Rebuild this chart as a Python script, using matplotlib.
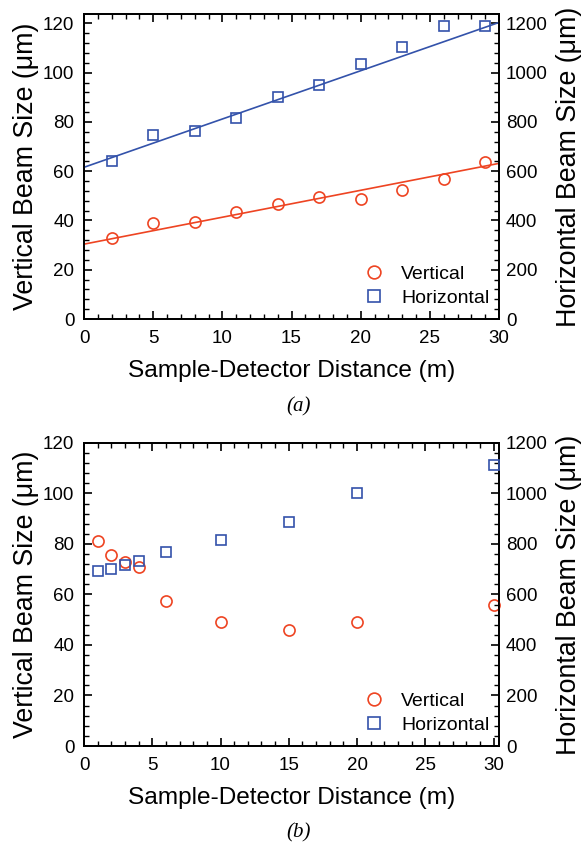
import matplotlib
matplotlib.use("Agg")
import matplotlib.pyplot as plt
import numpy as np
from matplotlib.ticker import MultipleLocator

plt.rcParams['font.family'] = ['Liberation Sans', 'DejaVu Sans']

# ---- data: panel (a) ----
a_dist = [2, 5, 8, 11, 14, 17, 20, 23, 26, 29]
a_vertical = [32.8, 38.8, 39.5, 43.4, 46.5, 49.7, 48.8, 52.2, 56.8, 63.9]
a_horizontal = [642, 746, 765, 816, 901, 949, 1034, 1105, 1188, 1191]
# linear fits (intercept, slope)
a_vert_fit = [30.4, 1.093]
a_horiz_fit = [616, 19.6]

# ---- data: panel (b) ----
b_dist = [1, 2, 3, 4, 6, 10, 15, 20, 30]
b_vertical = [81.0, 75.5, 72.8, 71.0, 57.4, 49.1, 46.0, 49.1, 56.0]
b_horizontal = [692, 699, 718, 734, 767, 814, 887, 1000, 1113]

RED = '#ee4422'
BLUE = '#3352aa'
XLABEL_FS = 17.6
YLABEL_FS = 19.3
TICK_FS = 13.5
LEG_FS = 14

fig = plt.figure(figsize=(5.81, 8.42), dpi=100)

def style_axes(ax, ax2, xmax, ymax):
    ax.set_xlim(0, xmax)
    ax.set_ylim(0, ymax)
    ax2.set_ylim(0, ymax * 10)
    ax.xaxis.set_major_locator(MultipleLocator(5))
    ax.xaxis.set_minor_locator(MultipleLocator(1))
    ax.yaxis.set_major_locator(MultipleLocator(20))
    ax.yaxis.set_minor_locator(MultipleLocator(4))
    ax2.yaxis.set_major_locator(MultipleLocator(200))
    ax2.yaxis.set_minor_locator(MultipleLocator(40))
    ax.tick_params(axis='x', which='both', direction='in', top=True, bottom=True)
    ax.tick_params(axis='y', which='both', direction='in', left=True, right=False)
    ax.tick_params(which='major', length=6, width=1.2, labelsize=TICK_FS)
    ax.tick_params(which='minor', length=3.5, width=1.0)
    ax.tick_params(axis='x', which='major', pad=8)
    ax.tick_params(axis='y', which='major', pad=7)
    ax2.tick_params(axis='y', which='both', direction='in')
    ax2.tick_params(which='major', length=6, width=1.2, labelsize=TICK_FS, pad=5)
    ax2.tick_params(which='minor', length=3.5, width=1.0)
    for sp in ax.spines.values():
        sp.set_linewidth(1.3)
    for sp in ax2.spines.values():
        sp.set_linewidth(1.3)
    ax.set_xlabel('Sample-Detector Distance (m)', fontsize=XLABEL_FS, labelpad=9)
    ax.set_ylabel('Vertical Beam Size (\u03bcm)', fontsize=YLABEL_FS, labelpad=3)
    ax2.set_ylabel('Horizontal Beam Size (\u03bcm)', fontsize=YLABEL_FS, labelpad=6)

def add_legend(ax, handles):
    ax.legend(handles=handles, loc='lower right', frameon=False, fontsize=LEG_FS,
              handletextpad=0.8, handlelength=1.2, borderaxespad=0.0, labelspacing=0.3,
              markerscale=1.15, bbox_to_anchor=(0.995, 0.015))

# Panel (a)
ax = fig.add_axes([0.1446, 0.6211, 0.7143, 0.3622])
ax2 = ax.twinx()
style_axes(ax, ax2, 30, 123.8)
xf = np.array([0, 30])
ax.plot(xf, a_vert_fit[0] + a_vert_fit[1] * xf, color=RED, lw=1.2, zorder=2)
ax2.plot(xf, a_horiz_fit[0] + a_horiz_fit[1] * xf, color=BLUE, lw=1.2, zorder=2)
hv, = ax.plot(a_dist, a_vertical, 'o', mfc='none', mec=RED, mew=1.2, ms=8, label='Vertical', zorder=3)
hh, = ax2.plot(a_dist, a_horizontal, 's', mfc='none', mec=BLUE, mew=1.2, ms=7, label='Horizontal', zorder=3)
add_legend(ax, [hv, hh])
fig.text(0.513, 1 - 407 / 842, '(a)', fontsize=15, family='Liberation Serif', style='italic',
         ha='center', va='center')

# Panel (b)
bx = fig.add_axes([0.1446, 0.114, 0.7143, 0.360])
bx2 = bx.twinx()
style_axes(bx, bx2, 30.4, 120)
bv, = bx.plot(b_dist, b_vertical, 'o', mfc='none', mec=RED, mew=1.2, ms=8, label='Vertical', zorder=3, clip_on=False)
bh, = bx2.plot(b_dist, b_horizontal, 's', mfc='none', mec=BLUE, mew=1.2, ms=7, label='Horizontal', zorder=3, clip_on=False)
add_legend(bx, [bv, bh])
fig.text(0.513, 1 - 833 / 842, '(b)', fontsize=15, family='Liberation Serif', style='italic',
         ha='center', va='center')

fig.savefig('out.png', dpi=100)
